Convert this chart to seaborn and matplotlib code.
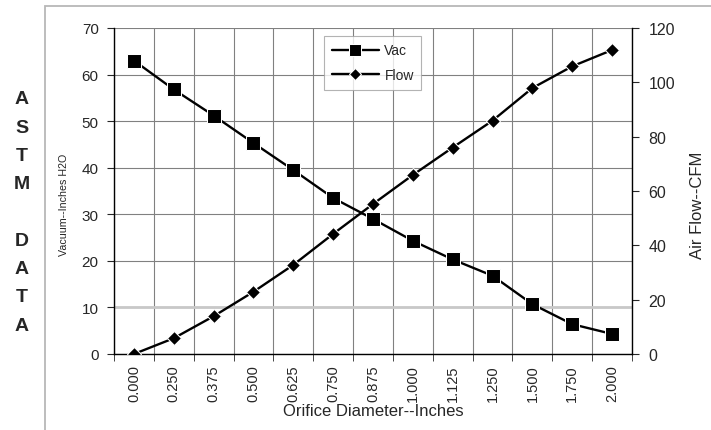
import numpy as np
import pandas as pd
import seaborn as sns
import matplotlib.pyplot as plt
from matplotlib.patches import Rectangle

# data
diameters = ['0.000', '0.250', '0.375', '0.500', '0.625', '0.750', '0.875',
             '1.000', '1.125', '1.250', '1.500', '1.750', '2.000']
vac = [63.0, 56.8, 51.2, 45.3, 39.5, 33.5, 29.0, 24.3, 20.3, 16.8, 10.7, 6.4, 4.3]
flow = [0, 5.8, 13.9, 22.9, 32.8, 44.2, 55.2, 65.9, 76.0, 85.9, 97.9, 105.9, 111.9]

df = pd.DataFrame({'Diameter': diameters, 'Vac': vac, 'Flow': flow})

sns.set_style('white')
plt.rcParams['font.family'] = ['Liberation Sans', 'DejaVu Sans']

fig = plt.figure(figsize=(7.11, 4.31), dpi=100)
ax = fig.add_axes([114 / 711, 1 - 355 / 431, 518 / 711, 326 / 431])
ax2 = ax.twinx()

sns.lineplot(data=df, x='Diameter', y='Vac', ax=ax, color='black', marker='s',
             markersize=10, linewidth=1.7, sort=False, label='Vac', legend=False)
sns.lineplot(data=df, x='Diameter', y='Flow', ax=ax2, color='black', marker='D',
             markersize=7.5, linewidth=1.7, sort=False, label='Flow', legend=False)

ax.set_xlim(-0.5, len(diameters) - 0.5)
ax.set_ylim(0, 70)
ax2.set_ylim(0, 120)
ax.set_yticks(np.arange(0, 71, 10))
ax2.set_yticks(np.arange(0, 121, 20))
ax.set_xticks(range(len(diameters)))
ax.set_xticklabels(diameters, rotation=90)
ax.set_xticks(np.arange(-0.5, len(diameters), 1), minor=True)

ax.grid(True, which='minor', axis='x', color='#808080', linewidth=0.8)
ax.grid(True, which='major', axis='y', color='#808080', linewidth=0.8)
ax.grid(False, which='major', axis='x')
ax.set_axisbelow(True)
# the 10 gridline is drawn lighter and wider in the original
ax.get_ygridlines()[1].set_color('#c8c8c8')
ax.get_ygridlines()[1].set_linewidth(2.0)

for a in (ax, ax2):
    for s in a.spines.values():
        s.set_visible(False)
ax.spines['left'].set_visible(True)
ax.spines['bottom'].set_visible(True)
ax2.spines['right'].set_visible(True)
for s in (ax.spines['left'], ax.spines['bottom'], ax2.spines['right']):
    s.set_color('black')
    s.set_linewidth(1.0)

ax.tick_params(axis='y', which='major', left=True, length=5, labelsize=11, pad=6)
ax.tick_params(axis='x', which='major', bottom=False, labelsize=10.5, pad=4)
ax.tick_params(axis='x', which='minor', bottom=True, length=5)
ax2.tick_params(axis='y', right=True, length=5, labelsize=11.5, pad=7)

ax.set_xlabel('Orifice Diameter--Inches', fontsize=12, labelpad=1)
ax.set_ylabel('Vacuum--Inches H2O', fontsize=7.7)
ax2.set_ylabel('Air Flow--CFM', fontsize=12)
ax.yaxis.set_label_coords((69 - 114) / 518, 0.46)
ax2.yaxis.set_label_coords(1 + (690 - 632) / 518, 0.46)

handles = ax.get_lines()[:1] + ax2.get_lines()[:1]
leg = ax.legend(handles, ['Vac', 'Flow'], loc='upper left',
                bbox_to_anchor=(210 / 518, 0.976), borderaxespad=0,
                fontsize=10, frameon=True, fancybox=False, edgecolor='#a0a0a0',
                handlelength=3.4, handletextpad=0.4, borderpad=0.55,
                labelspacing=0.75, markerscale=0.8)
leg.get_frame().set_linewidth(0.8)
leg.set_zorder(10)

# outer chart frame
fig.patches.append(Rectangle((45 / 711, -0.05), 1, 1.05 - 7 / 431,
                             transform=fig.transFigure, fill=False,
                             edgecolor='#b8b8b8', linewidth=1.3))

fig.text(22 / 711, 1 - 213 / 431, 'A\nS\nT\nM\n\nD\nA\nT\nA', ha='center',
         va='center', fontsize=14, fontweight='bold', linespacing=1.87)

fig.savefig('out.png', dpi=100)
